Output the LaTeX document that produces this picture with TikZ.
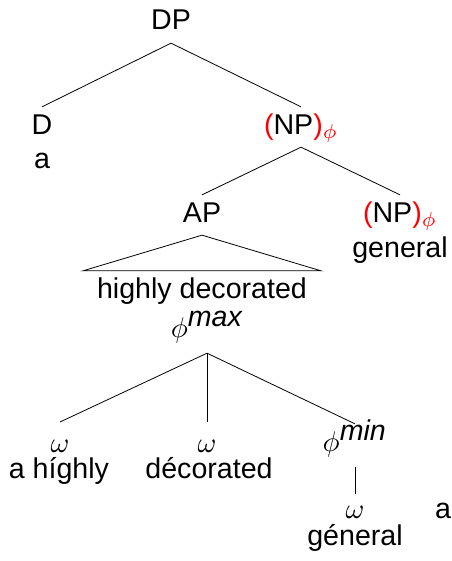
\documentclass[tikz,border=0pt]{standalone}
\usepackage{fontspec}
\setmainfont{Liberation Sans}
\begin{document}
\begin{tikzpicture}[x=0.34965pt,y=-0.34965pt,scale=2.86,transform shape,line width=0.8pt,
    cat/.style={inner sep=2.1pt,text height=7pt,text depth=2.1pt},
    word/.style={inner sep=0pt,anchor=base}]
            \useasboundingbox (0,0) rectangle (451,561);
            % syntactic tree
            \node[cat,anchor=base] (dp) at (171,30) {DP};
            \node[cat,anchor=base] (d) at (42,134) {D};
            \node[word] (da) at (42,168) {a};
            \node[cat,anchor=base] (np) at (301,134) {\textcolor{red}{(}NP\textcolor{red}{)$_\phi$}};
            \node[cat,anchor=base] (ap) at (202,222) {AP};
            \node[cat,anchor=base] (nps) at (400,222) {\textcolor{red}{(}NP\textcolor{red}{)$_\phi$}};
            \node[word] (gen) at (400,257) {general};
            \node[cat,anchor=base,inner xsep=4.55pt] (hd) at (202,298) {highly decorated};
            \draw (dp.south) -- (d.north);
            \draw (dp.south) -- (np.north);
            \draw (np.south) -- (ap.north);
            \draw (np.south) -- (nps.north);
            \draw (ap.south) -- (hd.north west) -- (hd.north east) -- cycle;
            % prosodic tree
            \node[cat,anchor=base,text depth=3.15pt] (pmax) at (207,337) {$\phi^{\textit{max}}$};
            \node[cat,anchor=base,text height=8pt] (w1) at (60,452) {$\omega$};
            \node[cat,anchor=base,text height=8pt] (w2) at (207,452) {$\omega$};
            \node[cat,anchor=base,text depth=3.15pt] (pmin) at (355,451) {$\phi^{\textit{min}}$};
            \node[cat,anchor=base,text height=5.9pt] (w3) at (355,518) {$\omega$};
            \node[word] (t1) at (59,478) {a híghly};
            \node[word] (t2) at (209,478) {décorated};
            \node[word] (t3) at (355,545) {géneral};
            \node[word,anchor=base west] (t4) at (434,518) {a};
            \foreach \n in {w1,w2,pmin}
            \draw (pmax.south) -- (\n.north);
            \draw (pmin.south) -- (w3.north);
        \end{tikzpicture}
\end{document}
